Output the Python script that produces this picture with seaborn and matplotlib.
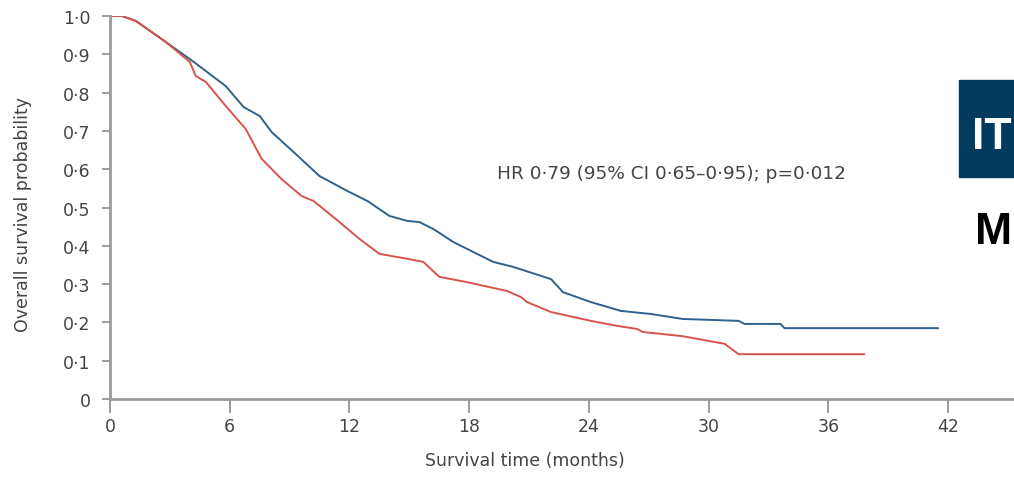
import matplotlib
matplotlib.use("Agg")
import matplotlib.pyplot as plt
import matplotlib.patches as mpatches
import seaborn as sns
import pandas as pd

# ---- data ----
blue_t = [0, 0.6, 1.3, 2.8, 4.2, 5.8, 6.7, 7.5, 8.1, 9.3, 10.5, 11.9, 12.9, 14.0, 14.9,
          15.5, 16.2, 17.2, 19.2, 20.2, 22.1, 22.7, 24.1, 25.6, 27.1, 28.7, 31.5, 31.8,
          33.6, 33.8, 41.5]
blue_s = [1.0, 1.0, 0.987, 0.932, 0.880, 0.817, 0.762, 0.739, 0.697, 0.640, 0.582, 0.543,
          0.517, 0.478, 0.465, 0.462, 0.444, 0.410, 0.358, 0.345, 0.313, 0.279, 0.253,
          0.230, 0.222, 0.209, 0.204, 0.196, 0.196, 0.185, 0.185]

red_t = [0, 0.6, 1.3, 2.8, 4.0, 4.3, 4.8, 5.8, 6.8, 7.6, 8.6, 9.6, 10.2, 11.5, 12.5, 13.5,
         14.9, 15.7, 16.5, 17.9, 19.9, 20.6, 20.9, 22.1, 24.1, 25.4, 26.4, 26.7, 28.7,
         30.8, 31.5, 37.8]
red_s = [1.0, 1.0, 0.987, 0.932, 0.880, 0.843, 0.828, 0.765, 0.705, 0.627, 0.574, 0.530,
         0.517, 0.462, 0.418, 0.379, 0.366, 0.358, 0.319, 0.305, 0.282, 0.266, 0.253,
         0.227, 0.204, 0.191, 0.183, 0.175, 0.164, 0.144, 0.117, 0.117]

x_ticks = [0, 6, 12, 18, 24, 30, 36, 42]
y_ticks = [0, 0.1, 0.2, 0.3, 0.4, 0.5, 0.6, 0.7, 0.8, 0.9, 1.0]
y_tick_labels = ["0", "0·1", "0·2", "0·3", "0·4", "0·5", "0·6", "0·7", "0·8", "0·9", "1·0"]
hr_text = "HR 0·79 (95% CI 0·65–0·95); p=0·012"

df = pd.concat([
    pd.DataFrame({"time": blue_t, "surv": blue_s, "arm": "blue"}),
    pd.DataFrame({"time": red_t, "surv": red_s, "arm": "red"}),
], ignore_index=True)

sns.set_style("ticks")
plt.rcParams["font.family"] = ["DejaVu Sans"]

fig = plt.figure(figsize=(10.14, 4.85), dpi=100)
ax = fig.add_axes([110 / 1014, 85 / 485, 1 - 110 / 1014, 383 / 485])

sns.lineplot(data=df, x="time", y="surv", hue="arm", units="arm", estimator=None,
             sort=False, palette={"blue": "#30608c", "red": "#d9534c"},
             linewidth=1.4, legend=False, ax=ax, hue_order=["blue", "red"])

ax.set_xlim(0, 45.3)
ax.set_ylim(0, 1.0)
ax.set_xticks(x_ticks)
ax.set_xticklabels([str(v) for v in x_ticks])
ax.set_yticks(y_ticks)
ax.set_yticklabels(y_tick_labels)

for s in ["top", "right"]:
    ax.spines[s].set_visible(False)
for s in ["left", "bottom"]:
    ax.spines[s].set_color("#9a9a9a")
    ax.spines[s].set_linewidth(2.0)
ax.tick_params(axis="both", colors="#8a8a8a", width=1.2, labelcolor="#444444",
               labelsize=12.5)
ax.tick_params(axis="y", length=6, pad=8)
ax.tick_params(axis="x", length=10, pad=3)

ax.set_xlabel("Survival time (months)", fontsize=12.5, color="#444444")
ax.xaxis.set_label_coords(0.459, -0.135)
ax.set_ylabel("Overall survival probability", fontsize=12.5, color="#444444")
ax.yaxis.set_label_coords(-0.086, 0.485)

ax.text(19.4, 0.577, hr_text, fontsize=13.3, color="#444444", ha="left", va="baseline")

# cropped side elements visible at the right edge of the reference
fig.patches.append(mpatches.Rectangle((959 / 1014, (485 - 178) / 485), 0.2, 97 / 485,
                                      transform=fig.transFigure, color="#023b5f",
                                      zorder=0))
fig.text(1012 / 1014, (485 - 149) / 485, "IT", color="white", fontsize=32,
         fontweight="bold", family=["Liberation Sans", "DejaVu Sans"],
         ha="right", va="baseline")
fig.text(1012 / 1014, (485 - 244) / 485, "M", color="black", fontsize=32,
         fontweight="bold", family=["Liberation Sans", "DejaVu Sans"],
         ha="right", va="baseline")

fig.savefig("out.png", dpi=100)
